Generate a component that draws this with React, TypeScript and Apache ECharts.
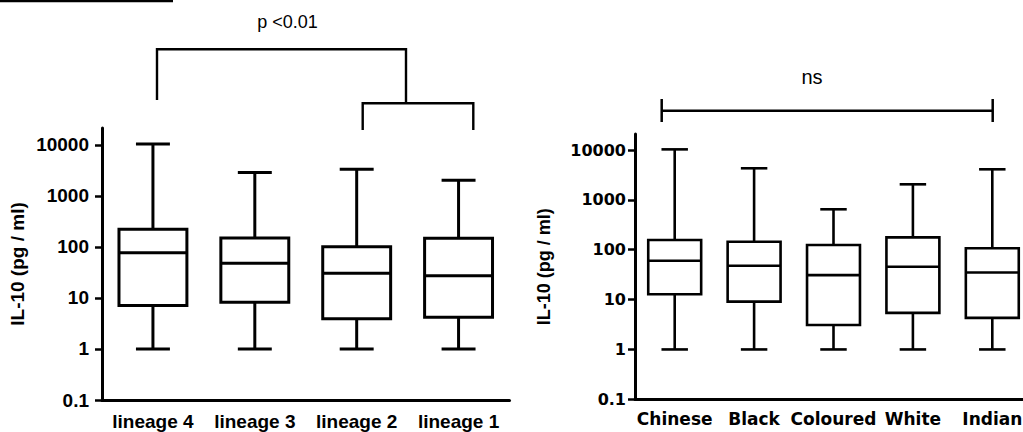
import React, { useEffect, useRef } from 'react';
import * as echarts from 'echarts';

// ---- data ----
const leftCategories = ['lineage 4', 'lineage 3', 'lineage 2', 'lineage 1'];
const leftMin = [1, 1, 1, 1];
const leftQ1 = [7.1, 8.3, 3.9, 4.2];
const leftMedian = [77, 48, 30.5, 27.4];
const leftQ3 = [222, 150, 101, 148];
const leftMax = [10500, 2900, 3340, 2030];

const rightCategories = ['Chinese', 'Black', 'Coloured', 'White', 'Indian'];
const rightMin = [1, 1, 1, 1, 1];
const rightQ1 = [12.8, 9.1, 3.1, 5.4, 4.3];
const rightMedian = [60, 47.8, 31, 45.7, 35];
const rightQ3 = [157, 145, 124, 177, 107];
const rightMax = [10300, 4300, 647, 2050, 4100];

const yTickValues = [0.1, 1, 10, 100, 1000, 10000];
const yTickLabels = ['0.1', '1', '10', '100', '1000', '10000'];
const yAxisName = 'IL-10 (pg / ml)';
const leftSignif = 'p <0.01';
const rightSignif = 'ns';

const fmtTick = (v: number) => {
  const i = yTickValues.findIndex((t) => Math.abs(Math.log10(v) - Math.log10(t)) < 1e-6);
  return i >= 0 ? yTickLabels[i] : '';
};

function boxSeries(xi: number, mins: number[], q1: number[], med: number[], q3: number[], maxs: number[], lw: number) {
  return {
    type: 'custom',
    xAxisIndex: xi,
    yAxisIndex: xi,
    clip: false,
    data: mins.map((m, i) => [i, m, q1[i], med[i], q3[i], maxs[i]]),
    encode: { x: 0, y: [1, 2, 3, 4, 5] },
    renderItem: (params: any, api: any) => {
      const i = api.value(0);
      const pMin = api.coord([i, api.value(1)]);
      const pQ1 = api.coord([i, api.value(2)]);
      const pMed = api.coord([i, api.value(3)]);
      const pQ3 = api.coord([i, api.value(4)]);
      const pMax = api.coord([i, api.value(5)]);
      const band = api.size([1, 0], [i, 1])[0];
      const bw = (band * 2) / 3;
      const cw = band / 3;
      const cx = pMed[0];
      const st = { stroke: '#000', lineWidth: lw, fill: 'none' };
      return {
        type: 'group',
        children: [
          { type: 'line', shape: { x1: cx, y1: pQ3[1], x2: cx, y2: pMax[1] }, style: st },
          { type: 'line', shape: { x1: cx - cw / 2, y1: pMax[1], x2: cx + cw / 2, y2: pMax[1] }, style: st },
          { type: 'line', shape: { x1: cx, y1: pQ1[1], x2: cx, y2: pMin[1] }, style: st },
          { type: 'line', shape: { x1: cx - cw / 2, y1: pMin[1], x2: cx + cw / 2, y2: pMin[1] }, style: st },
          {
            type: 'rect',
            shape: { x: cx - bw / 2, y: pQ3[1], width: bw, height: pQ1[1] - pQ3[1] },
            style: { stroke: '#000', lineWidth: lw, fill: '#fff' },
          },
          { type: 'line', shape: { x1: cx - bw / 2, y1: pMed[1], x2: cx + bw / 2, y2: pMed[1] }, style: st },
        ],
      };
    },
  };
}

function yAxis(gi: number, max: number, font: string, size: number, margin: number, nameSize: number, nameGap: number) {
  return {
    type: 'log',
    logBase: 10,
    gridIndex: gi,
    min: 0.1,
    max,
    splitLine: { show: false },
    axisLine: { show: true, onZero: false, lineStyle: { color: '#000', width: 3 } },
    axisTick: { show: true, length: 7, customValues: yTickValues, lineStyle: { color: '#000', width: 2.5 } },
    axisLabel: {
      customValues: yTickValues,
      formatter: fmtTick,
      color: '#000',
      fontFamily: font,
      fontWeight: 'bold',
      fontSize: size,
      margin,
    },
    name: yAxisName,
    nameLocation: 'middle',
    nameRotate: 90,
    nameGap,
    nameMoveOverlap: false,
    nameTextStyle: { color: '#000', fontFamily: '"Liberation Sans", Arial, sans-serif', fontWeight: 'bold', fontSize: nameSize },
  };
}

function xAxis(gi: number, data: string[], font: string, size: number, margin: number) {
  return {
    type: 'category',
    gridIndex: gi,
    data,
    boundaryGap: true,
    axisLine: { onZero: false, lineStyle: { color: '#000', width: 3 } },
    axisTick: { alignWithLabel: true, length: 7, lineStyle: { color: '#000', width: 2.5 } },
    axisLabel: { interval: 0, color: '#000', fontFamily: font, fontWeight: 'bold', fontSize: size, margin },
    splitLine: { show: false },
  };
}

export default function App() {
  const ref = useRef<HTMLDivElement>(null);
  useEffect(() => {
    if (!ref.current) return;
    const chart = echarts.init(ref.current, null, { renderer: 'svg' });
    const arial = '"Liberation Sans", Arial, sans-serif';
    const dejavu = '"DejaVu Sans", sans-serif';
    chart.setOption({
      animation: false,
      backgroundColor: '#fff',
      grid: [
        { left: 102, top: 128, width: 407.5, height: 272, outerBoundsMode: 'none', containLabel: false },
        { left: 635, top: 134, width: 397, height: 265.3, outerBoundsMode: 'none', containLabel: false },
      ],
      xAxis: [xAxis(0, leftCategories, arial, 19, 12), xAxis(1, rightCategories, dejavu, 17, 11)],
      yAxis: [yAxis(0, 21544, arial, 19, 13, 19, 75), yAxis(1, 20940, dejavu, 16, 9, 18, 82)],
      series: [
        boxSeries(0, leftMin, leftQ1, leftMedian, leftQ3, leftMax, 3),
        boxSeries(1, rightMin, rightQ1, rightMedian, rightQ3, rightMax, 2.6),
      ],
      graphic: [
        { type: 'rect', shape: { x: 0, y: 0, width: 173, height: 2.3 }, style: { fill: '#000' } },
        {
          type: 'polyline',
          shape: { points: [[157, 100], [157, 49.3], [406, 49.3], [406, 103.3]] },
          style: { stroke: '#000', lineWidth: 2.4, fill: 'none' },
        },
        {
          type: 'polyline',
          shape: { points: [[362.7, 130], [362.7, 103.3], [473.3, 103.3], [473.3, 130]] },
          style: { stroke: '#000', lineWidth: 2.4, fill: 'none' },
        },
        {
          type: 'text',
          x: 287.5,
          y: 22,
          style: { text: leftSignif, font: '18px "Liberation Sans", Arial, sans-serif', fill: '#000', textAlign: 'center', textVerticalAlign: 'middle' },
        },
        { type: 'line', shape: { x1: 661.7, y1: 110.7, x2: 992.7, y2: 110.7 }, style: { stroke: '#000', lineWidth: 2.5 } },
        { type: 'line', shape: { x1: 661.7, y1: 99, x2: 661.7, y2: 122 }, style: { stroke: '#000', lineWidth: 2.5 } },
        { type: 'line', shape: { x1: 992.7, y1: 99, x2: 992.7, y2: 122 }, style: { stroke: '#000', lineWidth: 2.5 } },
        {
          type: 'text',
          x: 812,
          y: 77,
          style: { text: rightSignif, font: '20px "Liberation Sans", Arial, sans-serif', fill: '#000', textAlign: 'center', textVerticalAlign: 'middle' },
        },
      ],
    });
    return () => chart.dispose();
  }, []);
  return <div ref={ref} style={{ position: 'absolute', left: 0, top: 0, width: 1023, height: 432 }} />;
}
